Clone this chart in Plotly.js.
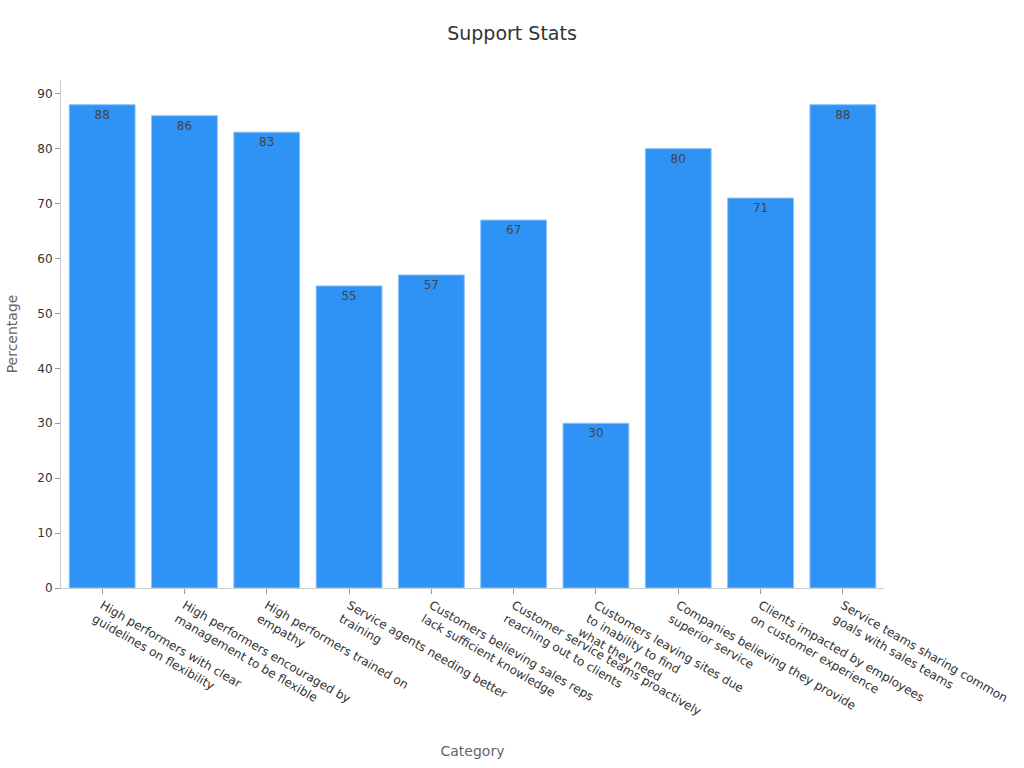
<!DOCTYPE html>
<html>
<head>
<meta charset="utf-8">
<script src="https://cdn.plot.ly/plotly-3.0.1.min.js"></script>
<style>html,body{margin:0;padding:0;background:#fff;}#chart{width:1024px;height:768px;}</style>
</head>
<body>
<div id="chart"></div>
<script>
const categories = [
  "High performers with clear<br>guidelines on flexibility",
  "High performers encouraged by<br>management to be flexible",
  "High performers trained on<br>empathy",
  "Service agents needing better<br>training",
  "Customers believing sales reps<br>lack sufficient knowledge",
  "Customer service teams proactively<br>reaching out to clients",
  "Customers leaving sites due<br>to inability to find<br>what they need",
  "Companies believing they provide<br>superior service",
  "Clients impacted by employees<br>on customer experience",
  "Service teams sharing common<br>goals with sales teams"
];
const percentages = [88, 86, 83, 55, 57, 67, 30, 80, 71, 88];

const trace = {
  type: 'bar',
  x: categories,
  y: percentages,
  text: percentages.map(String),
  textposition: 'inside',
  insidetextanchor: 'end',
  textfont: {color: '#444', size: 12, family: 'DejaVu Sans'},
  marker: {color: '#2E93F5', line: {color: '#8cc4fa', width: 1}},
  hoverinfo: 'none'
};

const layout = {
  width: 1024, height: 768,
  font: {family: 'DejaVu Sans', size: 12, color: '#444'},
  title: {text: 'Support Stats', x: 0.5, xref: 'container', y: 0.957, yanchor: 'middle', font: {size: 19, color: '#333'}},
  margin: {l: 61, r: 140, t: 80, b: 180},
  bargap: 0.2,
  showlegend: false,
  paper_bgcolor: '#fff', plot_bgcolor: '#fff',
  xaxis: {
    title: {text: 'Category', font: {size: 14, color: '#666'}, standoff: 15},
    tickangle: 30,
    ticks: 'outside', ticklen: 5, tickcolor: '#999',
    showline: true, linecolor: '#ccc', linewidth: 1,
    showgrid: false,
    tickfont: {size: 12, color: '#333'}
  },
  yaxis: {
    title: {text: 'Percentage', font: {size: 14, color: '#666'}, standoff: 16},
    automargin: true,
    range: [0, 92.5],
    dtick: 10,
    ticks: 'outside', ticklen: 5, tickcolor: '#999',
    showline: true, linecolor: '#ccc', linewidth: 1,
    showgrid: false, zeroline: false,
    tickfont: {size: 12, color: '#333'}
  }
};

Plotly.newPlot('chart', [trace], layout, {displayModeBar: false, staticPlot: true});
</script>
</body>
</html>
